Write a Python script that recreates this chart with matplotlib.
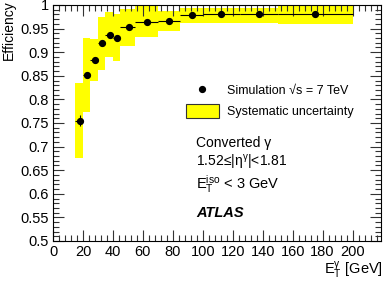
import matplotlib
matplotlib.use("Agg")
import matplotlib.pyplot as plt
from matplotlib.lines import Line2D
from matplotlib.patches import Patch
from matplotlib.ticker import MultipleLocator
import numpy as np

# bins in E_T [GeV]
bin_lo = [15, 20, 25, 30, 35, 40, 45, 55, 70, 85, 100, 125, 150]
bin_hi = [20, 25, 30, 35, 40, 45, 55, 70, 85, 100, 125, 150, 200]
pt_x = [17.7, 22.8, 27.8, 32.8, 37.8, 42.8, 50.5, 62.5, 77.5, 92.5, 112.5, 137.5, 175]
eff = [0.755, 0.852, 0.883, 0.919, 0.9375, 0.930, 0.953, 0.964, 0.9665, 0.978, 0.980, 0.980, 0.981]
stat = [0.012, 0.006, 0.005, 0.004, 0.004, 0.007, 0.003, 0.002, 0.002, 0.002, 0.002, 0.002, 0.002]
syst_hi = [0.835, 0.930, 0.928, 0.975, 0.985, 0.980, 0.992, 0.997, 0.988, 0.994, 0.994, 0.994, 1.0]
syst_lo = [0.676, 0.774, 0.839, 0.863, 0.889, 0.881, 0.914, 0.933, 0.944, 0.962, 0.962, 0.962, 0.959]
x_ticks = [0, 20, 40, 60, 80, 100, 120, 140, 160, 180, 200]
y_ticks = [0.5, 0.55, 0.6, 0.65, 0.7, 0.75, 0.8, 0.85, 0.9, 0.95, 1.0]
y_labels = ["0.5", "0.55", "0.6", "0.65", "0.7", "0.75", "0.8", "0.85", "0.9", "0.95", "1"]

plt.rcParams["font.family"] = ["Liberation Sans", "DejaVu Sans"]
plt.rcParams["mathtext.fontset"] = "custom"
plt.rcParams["mathtext.rm"] = "Liberation Sans"
plt.rcParams["mathtext.it"] = "Liberation Sans:italic"

W, H = 384, 285
fig = plt.figure(figsize=(W / 100, H / 100), dpi=100)
ax = fig.add_axes([53 / W, 1 - 241 / H, (381 - 53) / W, (241 - 5) / H])

for lo, hi, a, b in zip(bin_lo, bin_hi, syst_lo, syst_hi):
    ax.fill_between([lo, hi], a, b, color="#ffff00", lw=0, zorder=1)

xerr = [np.array(pt_x) - np.array(bin_lo), np.array(bin_hi) - np.array(pt_x)]
ax.errorbar(pt_x, eff, xerr=xerr, yerr=stat, fmt="o", color="black",
            ms=4.2, elinewidth=0.8, capsize=0, zorder=3)

ax.set_xlim(0, 219)
ax.set_ylim(0.5, 1.0)
ax.set_xticks(x_ticks)
ax.xaxis.set_minor_locator(MultipleLocator(4))
ax.set_yticks(y_ticks)
ax.set_yticklabels(y_labels)
ax.yaxis.set_minor_locator(MultipleLocator(0.01))
ax.tick_params(which="both", direction="in", top=True, right=True,
               labelsize=10.5, color="#333333", pad=3)
ax.tick_params(which="major", length=8, width=0.8)
ax.tick_params(which="minor", length=4, width=0.8)
for s in ax.spines.values():
    s.set_linewidth(0.8)

ax.set_ylabel("Efficiency", fontsize=10, ha="right", va="center")
ax.yaxis.set_label_coords(-(53 - 9) / 328, 1.02)
ax.set_xlabel(r"E$_{\mathregular{T}}^{\mathregular{γ}}$ [GeV]", fontsize=10.5,
              ha="right", va="center")
ax.xaxis.set_label_coords(1.005, -(270 - 241) / 236)

handles = [Line2D([], [], marker="o", color="black", ls="none", ms=4.2),
           Patch(facecolor="#ffff00", edgecolor="#333333", lw=0.8)]
ax.legend(handles, ["Simulation √s = 7 TeV", "Systematic uncertainty"],
          loc="upper left", bbox_to_anchor=((186 - 53) / 328, 1 - (83 - 5) / 236),
          frameon=False, fontsize=9.0, handlelength=2.6, handleheight=1.4,
          handletextpad=0.65, labelspacing=0.5, borderpad=0, borderaxespad=0)

def put(px, py, s, **kw):
    fig.text(px / W, 1 - py / H, s, va="center", ha="left", **kw)

put(196, 143, "Converted γ", fontsize=10)
put(196, 163, r"1.52≤|η$^{\mathregular{γ}}$|<1.81", fontsize=10)
put(196, 184, r"E$_{\mathregular{T}}^{\mathregular{iso}}$ < 3 GeV", fontsize=10.5)
put(196, 213, "ATLAS", fontsize=10.5, weight="bold", style="italic")

fig.savefig("out.png", dpi=100)
